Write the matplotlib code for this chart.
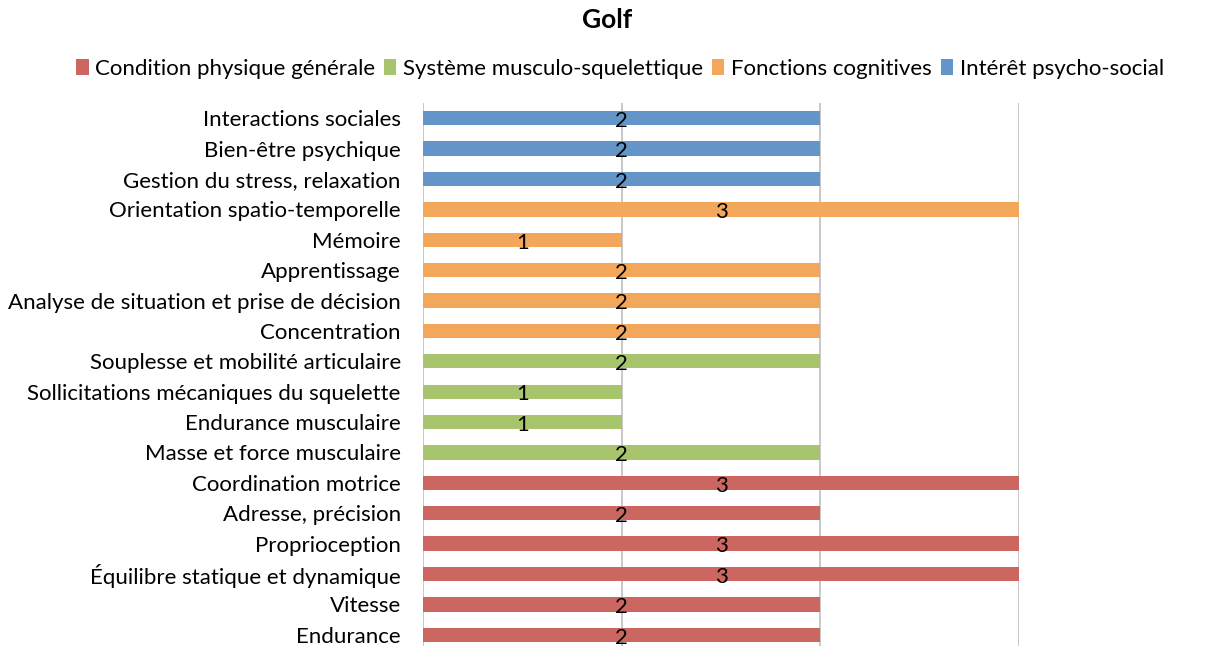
import matplotlib
matplotlib.use("Agg")
import matplotlib.pyplot as plt
from matplotlib.patches import Patch
import matplotlib.transforms as mtransforms
import numpy as np

categories = [
    "Endurance", "Vitesse", "Équilibre statique et dynamique", "Proprioception",
    "Adresse, précision", "Coordination motrice",
    "Masse et force musculaire", "Endurance musculaire",
    "Sollicitations mécaniques du squelette", "Souplesse et mobilité articulaire",
    "Concentration", "Analyse de situation et prise de décision", "Apprentissage",
    "Mémoire", "Orientation spatio-temporelle",
    "Gestion du stress, relaxation", "Bien-être psychique", "Interactions sociales",
]
series_names = ["Condition physique générale", "Système musculo-squelettique",
                "Fonctions cognitives", "Intérêt psycho-social"]
condition = [2, 2, 3, 3, 2, 3, 0, 0, 0, 0, 0, 0, 0, 0, 0, 0, 0, 0]
systeme   = [0, 0, 0, 0, 0, 0, 2, 1, 1, 2, 0, 0, 0, 0, 0, 0, 0, 0]
fonctions = [0, 0, 0, 0, 0, 0, 0, 0, 0, 0, 2, 2, 2, 1, 3, 0, 0, 0]
interet   = [0, 0, 0, 0, 0, 0, 0, 0, 0, 0, 0, 0, 0, 0, 0, 2, 2, 2]
colors = ["#CC6661", "#A8C46C", "#F2A75A", "#6495C8"]

plt.rcParams['font.family'] = ['Lato', 'DejaVu Sans']

fig = plt.figure(figsize=(12.14, 6.46), dpi=100)
H = 646.0
ax = fig.add_axes([423/1214, (646-650)/H, (1019-423)/1214, 547/H])

y = np.arange(len(categories))
left = np.zeros(len(categories))
offset = mtransforms.offset_copy(ax.transData, fig=fig, x=0, y=-2, units='points')
for vals, name, col in zip([condition, systeme, fonctions, interet], series_names, colors):
    vals = np.array(vals, dtype=float)
    ax.barh(y, vals, left=left, height=0.47, color=col, label=name, zorder=2)
    for yi, (l, v) in enumerate(zip(left, vals)):
        if v > 0:
            ax.text(l + v / 2, yi, f"{int(v)}", ha='center', va='center',
                    fontsize=16, color='black', zorder=3, transform=offset)
    left += vals

ax.set_xlim(0, 3)
ax.set_ylim(-0.5, len(categories) - 0.5)
ax.set_yticks(y)
ax.set_yticklabels(categories, fontsize=16)
ax.tick_params(axis='y', length=0, pad=16)
ax.set_xticks([0, 1, 2, 3])
ax.tick_params(axis='x', length=0, labelbottom=False)
ax.grid(axis='x', color='#BFBFBF', linewidth=1.2, zorder=0)
for s in ax.spines.values():
    s.set_visible(False)

fig.text(0.5, 1 - 20/H, "Golf", ha='center', va='center', fontsize=19, fontweight='bold')
handles = [Patch(facecolor=c, edgecolor='none') for c in colors]
fig.legend(handles, series_names, loc='center', bbox_to_anchor=(620/1214, 1 - 69/H),
           ncol=4, frameon=False, fontsize=16, handlelength=0.55, handleheight=0.75,
           handletextpad=0.3, columnspacing=0.4)

fig.savefig("out.png", dpi=100)
